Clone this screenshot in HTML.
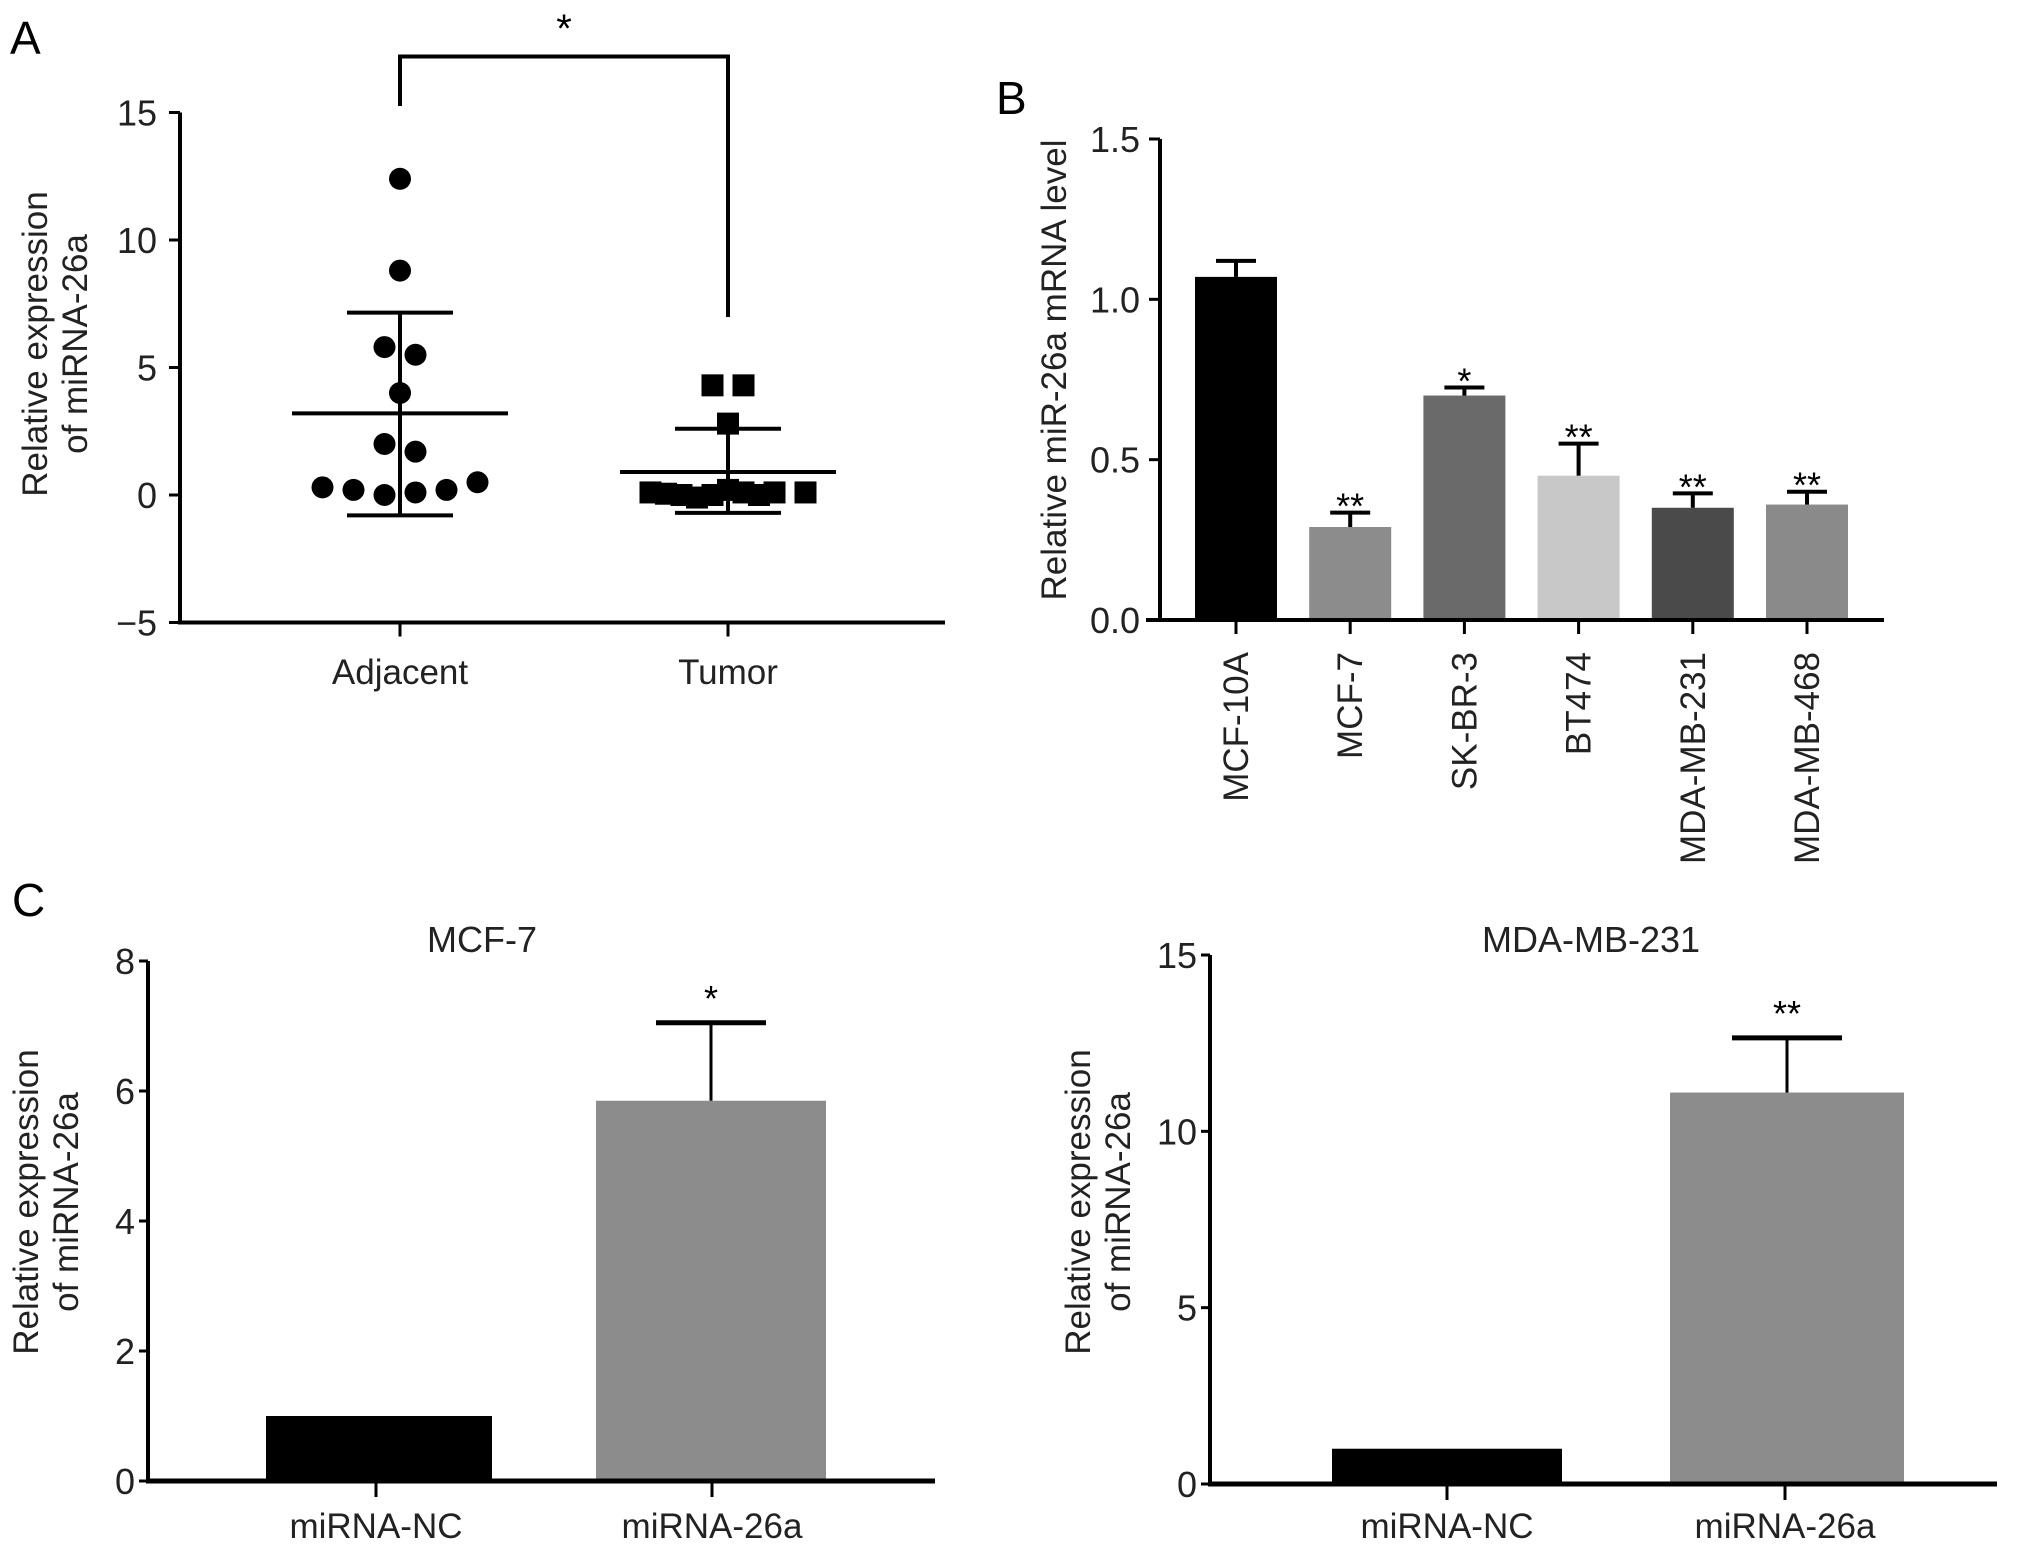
<!DOCTYPE html>
<html><head><meta charset="utf-8"><style>
html,body{margin:0;padding:0;background:#fff}
svg{display:block;font-family:"Liberation Sans",Arial,sans-serif}
</style></head><body>
<svg id="fig" width="2031" height="1548" viewBox="0 0 2031 1548" xmlns="http://www.w3.org/2000/svg">
<g id="pa"></g>
<g id="pb"></g>
<g id="pc1"></g>
<g id="pc2"></g>
</svg>
<script>
// Panel A data
const aCats = ["Adjacent","Tumor"];
const aAdjVals = [12.4,8.8,5.8,5.5,4.0,2.0,1.7,0.3,0.2,0.0,0.1,0.2,0.5];
const aAdjOff = [0,0,-1,1,0,-1,1,-5,-3,-1,1,3,5];
const aTumVals = [4.3,4.3,2.8,0.1,0.05,0.0,-0.1,0.0,0.2,0.1,0.0,0.1,0.1];
const aTumOff = [-1,1,0,-5,-4,-3,-2,-1,0,1,2,3,5];
const aMeans = [3.2,0.9];
const aSdHi = [7.15,2.6];
const aSdLo = [-0.8,-0.7];
const aTicks = [-5,0,5,10,15];
const aTickLabels = ["\u22125","0","5","10","15"];
// Panel B data
const bCats = ["MCF-10A","MCF-7","SK-BR-3","BT474","MDA-MB-231","MDA-MB-468"];
const bVals = [1.07,0.29,0.70,0.45,0.35,0.36];
const bErr = [1.12,0.335,0.725,0.55,0.395,0.40];
const bStars = ["","**","*","**","**","**"];
const bColors = ["#000","#8c8c8c","#6a6a6a","#c8c8c8","#4a4a4a","#8a8a8a"];
const bTicks = [0,0.5,1.0,1.5];
const bTickLabels = ["0.0","0.5","1.0","1.5"];
// Panel C data
const cCats = ["miRNA-NC","miRNA-26a"];
const c1Vals = [1.0,5.85];
const c1Err = [null,7.05];
const c1Stars = ["","*"];
const c1Ticks = [0,2,4,6,8];
const c2Vals = [1.0,11.1];
const c2Err = [null,12.65];
const c2Stars = ["","**"];
const c2Ticks = [0,5,10,15];
const cColors = ["#000","#8c8c8c"];

const NS="http://www.w3.org/2000/svg";
const FS=36;
function mk(parent,tag,attrs,text){const e=document.createElementNS(NS,tag);for(const k in attrs)e.setAttribute(k,attrs[k]);if(text!==undefined)e.textContent=text;parent.appendChild(e);return e;}
function lin(d0,d1,r0,r1){return v=>r0+(v-d0)*(r1-r0)/(d1-d0);}

// ---------- Panel A ----------
(function(){
const g=document.getElementById('pa');
const y=lin(0,15,495,112.5);
const x=i=>[400,728][i];
let t=mk(g,'text',{x:10,y:54,'font-size':46},'A');


let ax=mk(g,'line',{x1:180,y1:y(15),x2:180,y2:y(-5)+2,stroke:'#000','stroke-width':4});


let xa=mk(g,'line',{x1:178,y1:y(-5),x2:945,y2:y(-5),stroke:'#000','stroke-width':4});


aTicks.forEach((v,i)=>{
  mk(g,'line',{x1:169,y1:y(v),x2:180,y2:y(v),stroke:'#000','stroke-width':3});
  let l=mk(g,'text',{x:157,y:y(v)+13,'font-size':FS,'text-anchor':'end',fill:'#222'},aTickLabels[i]);
  
  
});
aCats.forEach((c,i)=>{
  mk(g,'line',{x1:x(i),y1:y(-5),x2:x(i),y2:y(-5)+14,stroke:'#000','stroke-width':3});
  let l=mk(g,'text',{x:x(i),y:684,'font-size':FS-1,'text-anchor':'middle',fill:'#222'},c);
  
  
});
let yt=mk(g,'text',{transform:'translate(47,344) rotate(-90)','font-size':35,'text-anchor':'middle',fill:'#222'});


mk(yt,'tspan',{x:0,y:0},'Relative expression');
mk(yt,'tspan',{x:0,y:40},'of miRNA-26a');
let br=mk(g,'path',{d:`M${x(0)},106 L${x(0)},56.5 L${x(1)},56.5 L${x(1)},317`,fill:'none',stroke:'#000','stroke-width':4});


let st=mk(g,'text',{x:564,y:42,'font-size':40,'text-anchor':'middle'},'*');


[0,1].forEach(i=>{
  mk(g,'line',{x1:x(i),y1:y(aSdHi[i]),x2:x(i),y2:y(aSdLo[i]),stroke:'#000','stroke-width':4});
  mk(g,'line',{x1:x(i)-53,y1:y(aSdHi[i]),x2:x(i)+53,y2:y(aSdHi[i]),stroke:'#000','stroke-width':4});
  mk(g,'line',{x1:x(i)-53,y1:y(aSdLo[i]),x2:x(i)+53,y2:y(aSdLo[i]),stroke:'#000','stroke-width':4});
  let m=mk(g,'line',{x1:x(i)-108,y1:y(aMeans[i]),x2:x(i)+108,y2:y(aMeans[i]),stroke:'#000','stroke-width':4});
  
  
});
aAdjVals.forEach((v,i)=>{
  let c=mk(g,'circle',{cx:x(0)+aAdjOff[i]*15.5,cy:y(v),r:11,fill:'#000'});
  
  
});
aTumVals.forEach((v,i)=>{
  const cx=x(1)+aTumOff[i]*15.5;
  let r=mk(g,'rect',{x:cx-11,y:y(v)-11,width:22,height:22,fill:'#000'});
  
  
});
})();

// ---------- Panel B ----------
(function(){
const g=document.getElementById('pb');
const y=lin(0,1.5,620,139);
const x=i=>1236+i*114.2;
let t=mk(g,'text',{x:996,y:114,'font-size':46},'B');


bVals.forEach((v,i)=>{
  let r=mk(g,'rect',{x:x(i)-41,y:y(v),width:82,height:y(0)-y(v),fill:bColors[i]});
  
  
  mk(g,'line',{x1:x(i),y1:y(v),x2:x(i),y2:y(bErr[i]),stroke:'#000','stroke-width':4});
  let cap=mk(g,'line',{x1:x(i)-20,y1:y(bErr[i]),x2:x(i)+20,y2:y(bErr[i]),stroke:'#000','stroke-width':4});
  
  
  if(bStars[i]){let s=mk(g,'text',{x:x(i),y:y(bErr[i])+6,'font-size':36,'text-anchor':'middle'},bStars[i]);
  
  }
  mk(g,'line',{x1:x(i),y1:y(0),x2:x(i),y2:y(0)+14,stroke:'#000','stroke-width':3});
  let l=mk(g,'text',{transform:`translate(${x(i)+12},652) rotate(-90)`,'font-size':FS-1,'text-anchor':'end',fill:'#222'},bCats[i]);
  
  
});
let ax=mk(g,'line',{x1:1160,y1:y(1.5),x2:1160,y2:y(0)+2,stroke:'#000','stroke-width':4});


let xa=mk(g,'line',{x1:1146,y1:y(0),x2:1884,y2:y(0),stroke:'#000','stroke-width':4});


bTicks.forEach((v,i)=>{
  mk(g,'line',{x1:1149,y1:y(v),x2:1160,y2:y(v),stroke:'#000','stroke-width':3});
  let l=mk(g,'text',{x:1140,y:y(v)+13,'font-size':FS,'text-anchor':'end',fill:'#222'},bTickLabels[i]);
  
  
});
let yt=mk(g,'text',{transform:'translate(1066,370) rotate(-90)','font-size':35,'text-anchor':'middle',fill:'#222'},'Relative miR-26a mRNA level');


})();

// ---------- Panel C ----------
function panelC(id,axX,xEnd,yTop,yZero,maxV,vals,errs,stars,ticks,bars,catX,title,titleX,ytX,label){
const g=document.getElementById(id);
const y=lin(0,maxV,yZero,yTop);
if(label){let t=mk(g,'text',{x:12,y:916,'font-size':46},label);

}
let tt=mk(g,'text',{x:titleX,y:952,'font-size':FS,'text-anchor':'middle',fill:'#222'},title);


vals.forEach((v,i)=>{
  let r=mk(g,'rect',{x:bars[i][0],y:y(v),width:bars[i][1]-bars[i][0],height:yZero-y(v),fill:cColors[i]});
  
  
  if(errs[i]!==null){
    const cx=(bars[i][0]+bars[i][1])/2;
    mk(g,'line',{x1:cx,y1:y(v),x2:cx,y2:y(errs[i]),stroke:'#000','stroke-width':3});
    let cap=mk(g,'line',{x1:cx-55,y1:y(errs[i]),x2:cx+55,y2:y(errs[i]),stroke:'#000','stroke-width':5});
    
    
  }
  if(stars[i]){const cx=(bars[i][0]+bars[i][1])/2;let s=mk(g,'text',{x:cx,y:y(errs[i])-12,'font-size':36,'text-anchor':'middle'},stars[i]);
  
  }
  mk(g,'line',{x1:catX[i],y1:yZero,x2:catX[i],y2:yZero+16,stroke:'#000','stroke-width':3});
  let l=mk(g,'text',{x:catX[i],y:1538,'font-size':FS-1,'text-anchor':'middle',fill:'#222'},cCats[i]);
  
  
});
let ax=mk(g,'line',{x1:axX,y1:yTop,x2:axX,y2:yZero+2,stroke:'#000','stroke-width':4});


let xa=mk(g,'line',{x1:axX-2,y1:yZero,x2:xEnd,y2:yZero,stroke:'#000','stroke-width':5});


ticks.forEach(v=>{
  mk(g,'line',{x1:axX-9,y1:y(v),x2:axX,y2:y(v),stroke:'#000','stroke-width':3});
  let l=mk(g,'text',{x:axX-13,y:y(v)+13,'font-size':FS,'text-anchor':'end',fill:'#222'},String(v));
  
  
});
let yt=mk(g,'text',{transform:`translate(${ytX},1202) rotate(-90)`,'font-size':35,'text-anchor':'middle',fill:'#222'});


mk(yt,'tspan',{x:0,y:0},'Relative expression');
mk(yt,'tspan',{x:0,y:40},'of miRNA-26a');
}
panelC('pc1',148,935,961,1481,8,c1Vals,c1Err,c1Stars,c1Ticks,[[266,492],[596,826]],[376,712],'MCF-7',482,38,'C');
panelC('pc2',1210,1997,955,1484,15,c2Vals,c2Err,c2Stars,c2Ticks,[[1332,1562],[1670,1904]],[1447,1785],'MDA-MB-231',1591,1090,null);
</script>
</body></html>
